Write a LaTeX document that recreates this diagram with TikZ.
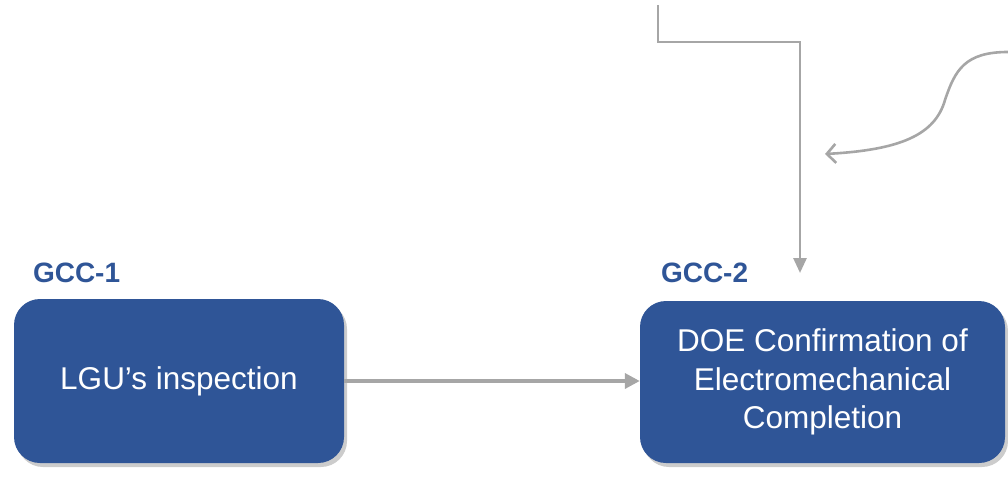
\documentclass[tikz,border=0pt]{standalone}
\usepackage{fontspec}
\setmainfont{Liberation Sans}
\usepackage{xcolor}
\usetikzlibrary{positioning, arrows.meta, shadows}

\definecolor{boxblue}{HTML}{2F5597}
\definecolor{linegray}{HTML}{A6A6A6}

\begin{document}
\begin{tikzpicture}[
  x=1pt, y=-1pt,
  box/.style={fill=boxblue, rounded corners=26pt, text=white, align=center,
    font=\fontsize{31.5}{38.5}\selectfont, inner sep=0pt,
    drop shadow={shadow xshift=3pt, shadow yshift=-4pt, opacity=0.4}},
  gcc/.style={text=boxblue, font=\bfseries\fontsize{28}{30}\selectfont, inner sep=0pt},
  arr/.style={draw=linegray, line width=3.6pt, -{Triangle[length=15pt, width=15pt]}},
  feed/.style={draw=linegray, line width=2.8pt, -{Triangle[length=15pt, width=13pt]}},
  note/.style={draw=linegray, line width=2.6pt, -{Straight Barb[length=9pt, width=19pt]}},
]
  \useasboundingbox (0,0) rectangle (1008,476);

  \node[box, minimum width=330pt, minimum height=164pt] (lgu) at (179,381) {LGU’s inspection};
  \node[box, minimum width=365pt, minimum height=162pt] (doe) at (822.5,382)
    {DOE Confirmation of\\Electromechanical\\Completion};

  \node[gcc, anchor=base west] (gcc1) at ([xshift=19pt, yshift=16pt]lgu.north west) {GCC-1};
  \node[gcc, anchor=base west] (gcc2) at ([xshift=21pt, yshift=18pt]doe.north west) {GCC-2};

  \coordinate (top) at (658,5);
  \coordinate (bend) at (800,42);
  \coordinate (drop) at (800,273);
  \coordinate (side) at (1008,52);
  \coordinate (mid) at (945,100);
  \coordinate (tip) at (825,154);

  \draw[arr] (lgu.east) -- (lgu.east -| doe.west);
  \draw[feed] (top) |- (bend) -- (drop);
  \draw[note] (side) .. controls (965,52) and (955,70) .. (mid)
    .. controls (935,135) and (900,150) .. (tip);
\end{tikzpicture}
\end{document}
